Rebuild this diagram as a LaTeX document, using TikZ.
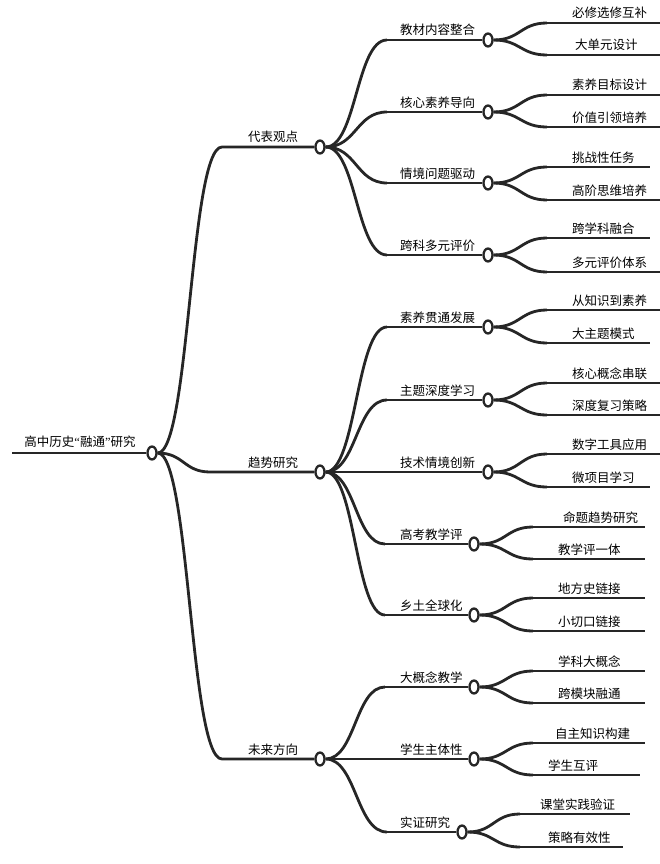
\documentclass[tikz,border=0pt]{standalone}
\usepackage{fontspec}
\setmainfont{Liberation Serif}
\newfontfamily\cjk{Noto Sans CJK SC}
\usetikzlibrary{shapes.geometric,calc,backgrounds}
\definecolor{lc}{HTML}{262626}
\begin{document}
\begin{tikzpicture}[x=1pt,y=-1pt,
 br/.style={draw=lc,line width=2.8pt},
 knot/.style={ellipse,draw=lc,fill=white,line width=2.3pt,minimum width=9pt,minimum height=13pt,inner sep=0pt},
 lab/.style={font=\cjk\fontsize{12.5}{14}\selectfont,inner sep=0pt,text=black},
 sc/.style={to path={let \p1=(\tikztostart),\p2=(\tikztotarget) in .. controls ({0.5*\x1+0.5*\x2},\y1) and ({0.5*\x1+0.5*\x2},\y2) .. (\tikztotarget)}}
]
\useasboundingbox (0,0) rectangle (660,864);
% root
\coordinate (r0s) at (12,453);
\node[knot] (r0) at (152,453) {};
\node[lab,anchor=base] (r0t) at (80,446) {高中历史{\rmfamily “}融通{\rmfamily ”}研究};
% level 1
\node[knot] (A) at (320,147) {};
\coordinate (As) at (222,147);
\node[lab,anchor=base] (At) at (273,142) {代表观点};
\node[knot] (B) at (320,472) {};
\coordinate (Bs) at (210,472);
\node[lab,anchor=base] (Bt) at (273,467) {趋势研究};
\node[knot] (C) at (320,759) {};
\coordinate (Cs) at (222,759);
\node[lab,anchor=base] (Ct) at (273,754) {未来方向};
\begin{pgfonlayer}{background}
 \draw[br] (r0s) -- (r0.west);
 \draw[br] (r0.east) to[sc] (As) -- (A.west);
 \draw[br] (r0.east) to[sc] (Bs) -- (B.west);
 \draw[br] (r0.east) to[sc] (Cs) -- (C.west);
\end{pgfonlayer}
% level 2 and leaves
\foreach \pa/\nm/\cx/\cy/\sx/\tt/\lsx/\la/\ya/\xa/\ea/\lb/\yb/\xb/\eb in {
A/A1/488/40/387/教材内容整合/547/必修选修互补/23/572/660/大单元设计/55/575/660,
A/A2/488/112/387/核心素养导向/547/素养目标设计/95/572/660/价值引领培养/127/572/660,
A/A3/488/183/387/情境问题驱动/547/挑战性任务/167/572/650/高阶思维培养/200/572/660,
A/A4/488/255/387/跨科多元评价/547/跨学科融合/238/572/650/多元评价体系/272/572/660,
B/B1/488/327/387/素养贯通发展/547/从知识到素养/310/572/660/大主题模式/343/572/650,
B/B2/488/400/387/主题深度学习/547/核心概念串联/383/572/660/深度复习策略/415/572/660,
B/B3/488/472/387/技术情境创新/547/数字工具应用/454/572/660/微项目学习/487/572/650,
B/B4/474/544/385/高考教学评/533/命题趋势研究/527/563/645/教学评一体/559/558/645,
B/B5/474/615/385/乡土全球化/533/地方史链接/598/558/645/小切口链接/631/558/645,
C/C1/474/687/385/大概念教学/533/学科大概念/671/558/645/跨模块融通/703/558/645,
C/C2/474/759/385/学生主体性/533/自主知识构建/743/555/645/学生互评/775/548/640,
C/C3/462/832/387/实证研究/520/课堂实践验证/814/540/630/策略有效性/847/548/623}{
 \node[knot] (\nm) at (\cx,\cy) {};
 \coordinate (\nm-s) at (\sx,\cy);
 \node[lab,anchor=base west] (\nm-t) at (400,\cy-5) {\tt};
 \coordinate (\nm-as) at (\lsx,\ya);
 \coordinate (\nm-ae) at (\ea,\ya);
 \coordinate (\nm-bs) at (\lsx,\yb);
 \coordinate (\nm-be) at (\eb,\yb);
 \node[lab,anchor=base west] (\nm-at) at (\xa,\ya-5) {\la};
 \node[lab,anchor=base west] (\nm-bt) at (\xb,\yb-5) {\lb};
 \begin{pgfonlayer}{background}
  \draw[br] (\nm-s) -- (\nm.west);
  \draw[br] (\pa.east) to[sc] (\nm-s);
  \draw[br] (\nm.east) to[sc] (\nm-as);
  \draw[br] (\nm-as) -- (\nm-ae);
  \draw[br] (\nm.east) to[sc] (\nm-bs);
  \draw[br] (\nm-bs) -- (\nm-be);
 \end{pgfonlayer}
}
\end{tikzpicture}
\end{document}
